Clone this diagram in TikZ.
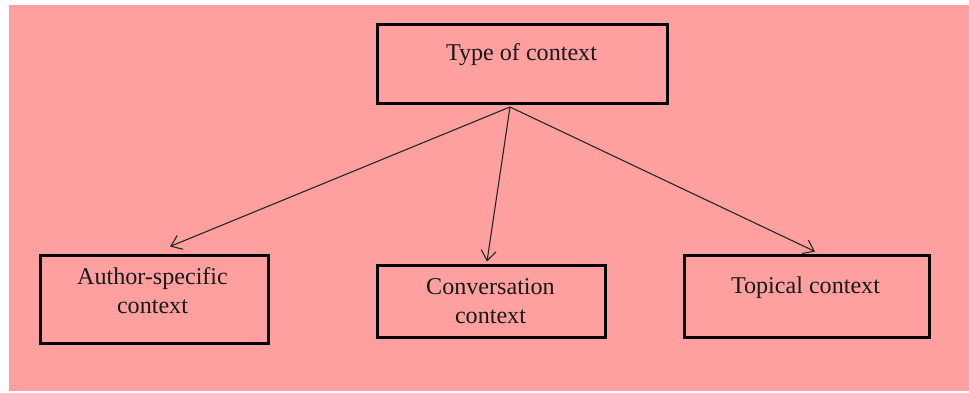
\documentclass[tikz,border=0pt]{standalone}
\usepackage{fontspec}
\setmainfont{Liberation Serif}
\usetikzlibrary{arrows.meta,calc}
\definecolor{bgpink}{RGB}{255,160,160}
\tikzset{
  box/.style={draw=black,line width=3pt,fill=none,inner sep=0pt},
  lbl/.style={font=\fontsize{24.1}{29}\selectfont,inner sep=0pt,align=center,text=black!90},
  conn/.style={line width=1.1pt,draw=black!85,-{Straight Barb[length=10pt,width=15pt,line width=1.1pt]}}
}
\begin{document}
\begin{tikzpicture}[x=1pt,y=-1pt]
\useasboundingbox (0,0) rectangle (969,393);
\fill[bgpink] (9,5) rectangle (969,391);
% boxes
\node[box,minimum width=290pt,minimum height=79pt] (top) at (522,64.5) {};
\node[box,minimum width=228pt,minimum height=88pt] (auth) at (154,299) {};
\node[box,minimum width=228pt,minimum height=72pt] (conv) at (491,301) {};
\node[box,minimum width=245pt,minimum height=82pt] (topi) at (806.5,296) {};
% labels
\node[lbl,anchor=base] (topt) at (521.5,61) {Type of context};
\node[lbl,anchor=base] (autht) at (152.5,313) {Author-specific\\context};
\node[lbl,anchor=base] (convt) at (490.5,323) {Conversation\\context};
\node[lbl,anchor=base] (topit) at (805.5,293) {Topical context};
% connectors
\coordinate (src) at ([xshift=-12pt,yshift=-1.5pt]top.south);
\coordinate (ea) at ([shift={(16,-7)}]auth.north);
\coordinate (ec) at ([shift={(-4,-2)}]conv.north);
\coordinate (et) at ([shift={(8.5,-2)}]topi.north);
\draw[conn] (src) -- (ea);
\draw[conn] (src) -- (ec);
\draw[conn] (src) -- (et);
\end{tikzpicture}
\end{document}
